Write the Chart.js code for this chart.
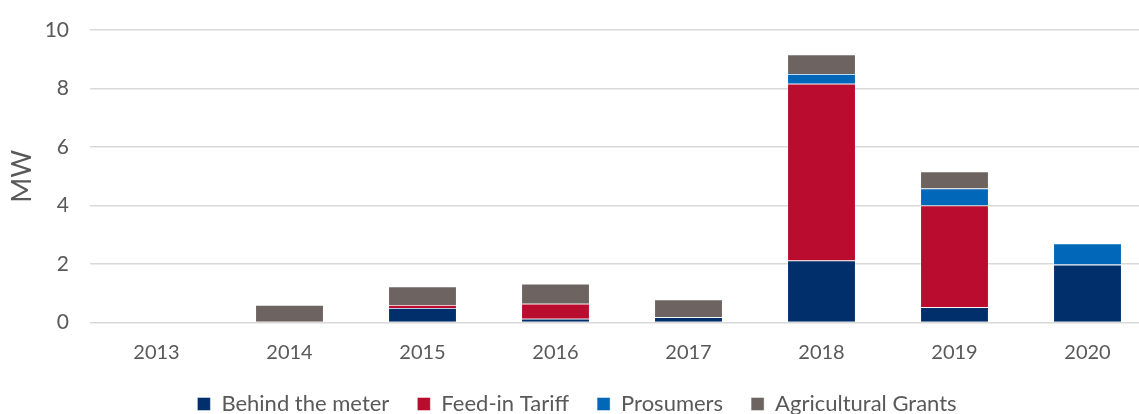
<!DOCTYPE html>
<html>
<head>
<meta charset="utf-8">
<script src="https://cdn.jsdelivr.net/npm/chart.js@4/dist/chart.umd.min.js"></script>
<style>
  html, body { margin: 0; padding: 0; background: #fff; overflow: hidden; }
  #wrap { width: 1139px; height: 414px; overflow: hidden; }
</style>
</head>
<body>
<div id="wrap"><canvas id="mwChart" width="1160" height="435"></canvas></div>
<script>
const years = ["2013", "2014", "2015", "2016", "2017", "2018", "2019", "2020"];
const behindTheMeter = [0, 0, 0.5, 0.13, 0.18, 2.12, 0.52, 1.98];
const feedInTariff = [0, 0, 0.1, 0.51, 0, 6.04, 3.48, 0];
const prosumers = [0, 0, 0, 0, 0, 0.34, 0.58, 0.72];
const agriculturalGrants = [0, 0.6, 0.63, 0.69, 0.61, 0.66, 0.58, 0];
const yTicks = [0, 2, 4, 6, 8, 10];

const textColor = "#595959";
const fontFamily = "Lato, 'Open Sans', sans-serif";

function makeSet(label, data, color) {
  return {
    label,
    data,
    backgroundColor: color,
    borderColor: "rgba(255,255,255,0.55)",
    borderWidth: 0.8,
    categoryPercentage: 1,
    barPercentage: 0.515,
  };
}

new Chart(document.getElementById("mwChart"), {
  type: "bar",
  data: {
    labels: years,
    datasets: [
      makeSet("Behind the meter", behindTheMeter, "#002f6c"),
      makeSet("Feed-in Tariff", feedInTariff, "#ba0c2f"),
      makeSet("Prosumers", prosumers, "#0067b9"),
      makeSet("Agricultural Grants", agriculturalGrants, "#6d6462"),
    ],
  },
  options: {
    responsive: false,
    animation: false,
    layout: { padding: { top: 30, right: 6, bottom: 10, left: 0 } },
    plugins: {
      tooltip: { enabled: false },
      legend: {
        position: "bottom",
        labels: {
          color: textColor,
          font: { family: fontFamily, size: 22 },
          boxWidth: 13,
          boxHeight: 13,
          padding: 28,
        },
      },
    },
    scales: {
      x: {
        stacked: true,
        grid: { display: false, drawTicks: false },
        border: { display: false },
        ticks: { color: textColor, font: { family: fontFamily, size: 20 }, padding: 18.5 },
        afterFit: (scale) => { scale.height = 42.5; },
      },
      y: {
        stacked: true,
        min: 0,
        max: 10,
        afterBuildTicks: (scale) => { scale.ticks = yTicks.map((v) => ({ value: v })); },
        grid: { color: "#d9d9d9", lineWidth: 1.5, drawTicks: false },
        border: { display: false },
        ticks: { color: textColor, font: { family: fontFamily, size: 21, lineHeight: 0.8 }, padding: 21 },
        title: {
          display: true,
          text: "MW",
          color: textColor,
          font: { family: fontFamily, size: 27 },
          padding: 6,
        },
        afterFit: (scale) => { scale.width = 90; },
      },
    },
  },
});
</script>
</body>
</html>
